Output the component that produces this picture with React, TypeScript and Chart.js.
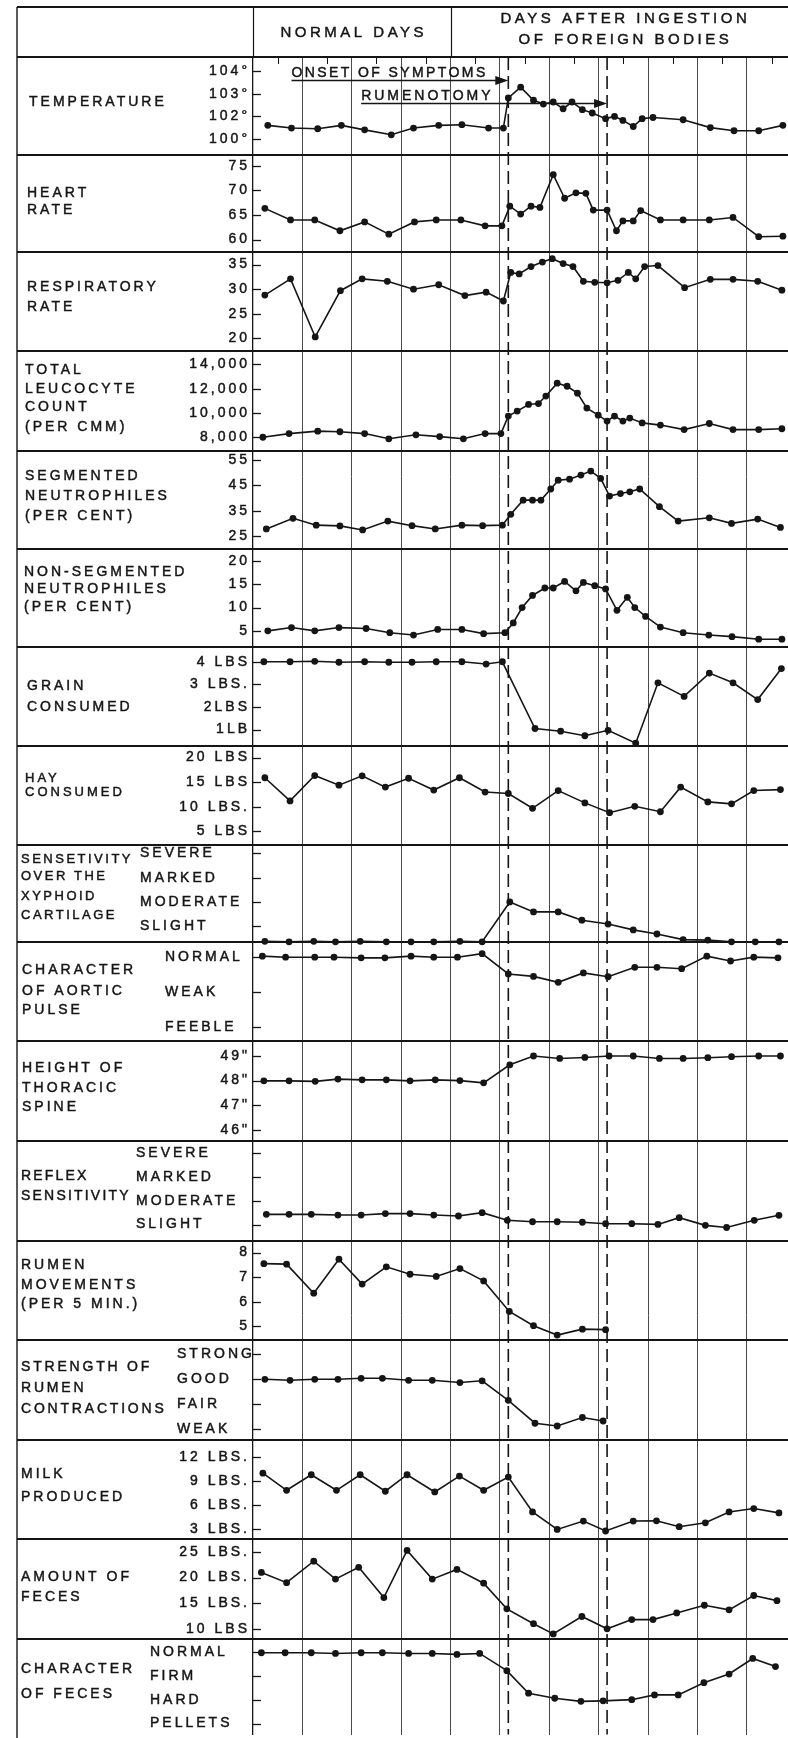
import { useEffect, useRef } from "react";
import { Chart, registerables } from "chart.js";

Chart.register(...registerables);

// ---------------- data (x = days from start of record, grid line = 1 day) ----------------
const tempDays = [0.30, 0.78, 1.31, 1.79, 2.26, 2.80, 3.25, 3.76, 4.23, 4.77, 5.07, 5.17, 5.42, 5.68, 5.88, 6.08, 6.28, 6.46, 6.67, 6.87, 7.14, 7.32, 7.49, 7.70, 7.88, 8.10, 8.71, 9.26, 9.74, 10.24, 10.73];
const tempValues = [101.6, 101.48, 101.45, 101.6, 101.4, 101.18, 101.48, 101.6, 101.63, 101.48, 101.48, 102.82, 103.3, 102.72, 102.55, 102.64, 102.34, 102.64, 102.3, 102.15, 101.9, 102.0, 101.82, 101.55, 101.9, 101.95, 101.85, 101.5, 101.36, 101.36, 101.6];

const heartDays = [0.24, 0.76, 1.25, 1.76, 2.26, 2.75, 3.27, 3.71, 4.21, 4.70, 5.04, 5.20, 5.42, 5.63, 5.81, 6.08, 6.31, 6.54, 6.74, 6.89, 7.17, 7.36, 7.49, 7.70, 7.85, 8.25, 8.71, 9.24, 9.72, 10.24, 10.73];
const heartValues = [66.35, 64.0, 64.0, 61.8, 63.6, 61.1, 63.6, 64.0, 64.0, 62.8, 62.8, 66.8, 65.2, 66.8, 66.55, 73.2, 68.4, 69.5, 69.4, 66.0, 66.0, 61.8, 63.8, 63.8, 65.9, 64.0, 64.0, 64.0, 64.5, 60.6, 60.7];

const respDays = [0.24, 0.76, 1.26, 1.77, 2.21, 2.72, 3.25, 3.76, 4.29, 4.72, 5.07, 5.22, 5.39, 5.63, 5.86, 6.06, 6.28, 6.48, 6.69, 6.92, 7.17, 7.39, 7.60, 7.75, 7.93, 8.20, 8.74, 9.26, 9.72, 10.22, 10.71];
const respValues = [28.8, 32.1, 20.3, 29.7, 32.1, 31.6, 30.0, 30.9, 28.7, 29.4, 27.6, 33.4, 33.1, 34.6, 35.5, 36.2, 35.2, 34.6, 31.6, 31.4, 31.3, 31.8, 33.4, 32.1, 34.6, 34.8, 30.3, 32.0, 32.0, 31.6, 29.8];

const leucoDays = [0.20, 0.73, 1.31, 1.76, 2.26, 2.75, 3.30, 3.78, 4.26, 4.70, 5.02, 5.17, 5.35, 5.58, 5.78, 5.93, 6.16, 6.36, 6.57, 6.76, 6.99, 7.17, 7.32, 7.49, 7.63, 7.88, 8.25, 8.73, 9.24, 9.72, 10.24, 10.71];
const leucoValues = [8000, 8300, 8500, 8450, 8300, 7870, 8200, 8050, 7870, 8300, 8300, 9745, 10150, 10700, 10770, 11390, 12450, 12200, 11630, 10400, 9820, 9330, 9745, 9330, 9580, 9180, 9000, 8630, 9130, 8630, 8630, 8700];

const segDays = [0.27, 0.81, 1.28, 1.76, 2.22, 2.73, 3.22, 3.69, 4.23, 4.65, 5.05, 5.22, 5.47, 5.66, 5.83, 6.03, 6.18, 6.41, 6.64, 6.84, 7.04, 7.22, 7.44, 7.63, 7.83, 8.23, 8.61, 9.24, 9.69, 10.22, 10.68];
const segValues = [27.8, 32.0, 29.3, 29.0, 27.4, 30.9, 29.1, 27.8, 29.3, 29.1, 29.3, 33.6, 39.2, 39.2, 39.2, 43.6, 47.1, 47.5, 49.1, 50.7, 47.8, 40.8, 41.8, 42.5, 43.6, 36.6, 30.9, 32.2, 30.0, 31.7, 28.4];

const nonSegDays = [0.30, 0.78, 1.25, 1.74, 2.29, 2.77, 3.25, 3.74, 4.23, 4.67, 5.10, 5.27, 5.45, 5.66, 5.91, 6.08, 6.31, 6.54, 6.69, 6.92, 7.14, 7.37, 7.58, 7.73, 7.95, 8.25, 8.71, 9.23, 9.70, 10.24, 10.71];
const nonSegValues = [5.0, 5.7, 5.0, 5.7, 5.5, 4.6, 4.1, 5.3, 5.3, 4.4, 4.6, 6.7, 10.0, 12.6, 14.2, 14.2, 15.6, 13.6, 15.4, 14.7, 14.0, 9.4, 12.2, 10.0, 8.1, 5.8, 4.6, 4.1, 3.75, 3.2, 3.2];

const grainDays = [0.22, 0.75, 1.25, 1.74, 2.26, 2.75, 3.22, 3.71, 4.23, 4.72, 5.05, 5.71, 6.23, 6.72, 7.19, 7.75, 8.20, 8.73, 9.24, 9.72, 10.22, 10.70];
const grainValues = [4.0, 4.0, 4.02, 3.98, 4.0, 3.98, 3.98, 4.0, 4.0, 3.9, 4.0, 1.05, 0.93, 0.73, 0.97, 0.4, 3.07, 2.47, 3.5, 3.07, 2.33, 3.7];

const hayDays = [0.24, 0.75, 1.25, 1.74, 2.21, 2.68, 3.15, 3.66, 4.18, 4.70, 5.17, 5.66, 6.18, 6.72, 7.22, 7.73, 8.25, 8.66, 9.21, 9.69, 10.14, 10.68];
const hayValues = [15.9, 11.2, 16.35, 14.4, 16.3, 14.0, 15.8, 13.4, 15.9, 13.0, 12.7, 9.7, 13.3, 10.8, 8.8, 10.1, 9.0, 14.0, 11.0, 10.6, 13.3, 13.5];

const xiphoidDays = [0.24, 0.73, 1.23, 1.67, 2.17, 2.70, 3.20, 3.66, 4.19, 4.64, 5.20, 5.68, 6.18, 6.66, 7.19, 7.70, 8.18, 8.71, 9.21, 9.69, 10.17, 10.65];
const xiphoidValues = [0.38, 0.36, 0.38, 0.36, 0.38, 0.36, 0.36, 0.36, 0.38, 0.36, 2.0, 1.59, 1.59, 1.25, 1.09, 0.85, 0.68, 0.45, 0.43, 0.36, 0.36, 0.36];

const aorticDays = [0.19, 0.66, 1.25, 1.64, 2.19, 2.67, 3.20, 3.66, 4.14, 4.64, 5.17, 5.68, 6.18, 6.69, 7.19, 7.73, 8.18, 8.68, 9.19, 9.67, 10.14, 10.63];
const aorticValues = [3.03, 3.0, 3.0, 3.0, 2.98, 2.98, 3.03, 3.0, 3.0, 3.1, 2.52, 2.45, 2.28, 2.55, 2.44, 2.71, 2.71, 2.67, 3.03, 2.89, 3.0, 2.98];

const spineDays = [0.22, 0.73, 1.26, 1.72, 2.21, 2.70, 3.18, 3.69, 4.19, 4.67, 5.20, 5.68, 6.21, 6.72, 7.21, 7.70, 8.23, 8.71, 9.21, 9.69, 10.24, 10.68];
const spineValues = [47.99, 47.99, 47.97, 48.06, 48.03, 48.03, 47.99, 48.03, 48.0, 47.91, 48.64, 49.0, 48.9, 48.94, 49.0, 49.0, 48.9, 48.9, 48.93, 48.97, 49.0, 49.0];

const reflexDays = [0.27, 0.73, 1.18, 1.72, 2.19, 2.68, 3.18, 3.66, 4.16, 4.64, 5.15, 5.66, 6.16, 6.67, 7.14, 7.67, 8.20, 8.63, 9.16, 9.59, 10.15, 10.65];
const reflexValues = [1.43, 1.43, 1.43, 1.40, 1.40, 1.46, 1.46, 1.40, 1.36, 1.5, 1.18, 1.12, 1.12, 1.10, 1.04, 1.04, 1.01, 1.29, 0.97, 0.88, 1.18, 1.39];

const rumenDays = [0.22, 0.68, 1.23, 1.74, 2.21, 2.70, 3.18, 3.71, 4.19, 4.67, 5.19, 5.68, 6.16, 6.67, 7.14];
const rumenValues = [7.55, 7.53, 6.35, 7.73, 6.72, 7.42, 7.12, 7.03, 7.35, 6.85, 5.61, 5.03, 4.65, 4.89, 4.87];

const strengthDays = [0.24, 0.75, 1.25, 1.72, 2.19, 2.62, 3.15, 3.63, 4.19, 4.64, 5.17, 5.71, 6.16, 6.67, 7.09];
const strengthValues = [3.0, 2.96, 3.0, 3.0, 3.04, 3.04, 2.96, 2.96, 2.87, 2.94, 2.16, 1.24, 1.13, 1.47, 1.33];

const milkDays = [0.20, 0.68, 1.18, 1.69, 2.17, 2.68, 3.12, 3.68, 4.18, 4.67, 5.17, 5.66, 6.16, 6.69, 7.14, 7.70, 8.17, 8.63, 9.16, 9.64, 10.14, 10.65];
const milkValues = [10.0, 7.85, 9.8, 7.85, 9.8, 7.73, 9.8, 7.64, 9.63, 7.85, 9.5, 5.14, 2.95, 4.0, 2.75, 4.0, 4.03, 3.29, 3.78, 5.14, 5.56, 5.02];

const fecesDays = [0.17, 0.68, 1.23, 1.67, 2.14, 2.65, 3.12, 3.63, 4.13, 4.67, 5.14, 5.68, 6.08, 6.66, 7.17, 7.67, 8.10, 8.58, 9.14, 9.64, 10.14, 10.61];
const fecesValues = [21.0, 19.0, 23.2, 19.7, 22.0, 16.1, 25.3, 19.7, 21.6, 18.9, 13.9, 11.0, 9.0, 12.4, 10.0, 11.8, 11.8, 13.1, 14.6, 13.7, 16.5, 15.5];

const fecesCharDays = [0.17, 0.65, 1.18, 1.67, 2.19, 2.62, 3.15, 3.63, 4.13, 4.59, 5.14, 5.58, 6.11, 6.64, 7.09, 7.67, 8.13, 8.61, 9.13, 9.64, 10.12, 10.58];
const fecesCharValues = [3.96, 3.96, 3.96, 3.93, 3.96, 3.96, 3.93, 3.93, 3.89, 3.93, 3.21, 2.27, 2.06, 1.93, 1.95, 2.0, 2.2, 2.2, 2.71, 3.07, 3.72, 3.38];

// ---------------- tick values / labels ----------------
const tempTicks = [104, 103, 102, 101];
const tempTickLabels = ["104°", "103°", "102°", "100°"];
const heartTicks = [75, 70, 65, 60];
const respTicks = [35, 30, 25, 20];
const leucoTicks = [14000, 12000, 10000, 8000];
const leucoTickLabels = ["14,000", "12,000", "10,000", "8,000"];
const segTicks = [55, 45, 35, 25];
const nonSegTicks = [20, 15, 10, 5];
const grainTicks = [4, 3, 2, 1];
const grainTickLabels = ["4 LBS", "3 LBS.", "2LBS", "1LB"];
const hayTicks = [20, 15, 10, 5];
const hayTickLabels = ["20 LBS", "15 LBS", "10 LBS.", "5 LBS"];
const severityTicks = [4, 3, 2, 1];
const severityTickLabels = ["SEVERE", "MARKED", "MODERATE", "SLIGHT"];
const pulseTicks = [3, 2, 1];
const pulseTickLabels = ["NORMAL", "WEAK", "FEEBLE"];
const spineTicks = [49, 48, 47, 46];
const spineTickLabels = ['49"', '48"', '47"', '46"'];
const rumenTicks = [8, 7, 6, 5];
const strengthTicks = [4, 3, 2, 1];
const strengthTickLabels = ["STRONG", "GOOD", "FAIR", "WEAK"];
const milkTicks = [12, 9, 6, 3];
const milkTickLabels = ["12 LBS.", "9 LBS.", "6 LBS.", "3 LBS."];
const fecesTicks = [25, 20, 15, 10];
const fecesTickLabels = ["25 LBS.", "20 LBS.", "15 LBS.", "10 LBS"];
const fecesCharTicks = [4, 3, 2, 1];
const fecesCharTickLabels = ["NORMAL", "FIRM", "HARD", "PELLETS"];

// events
const eventDays = [5.17, 7.17];
const eventNames = ["ONSET OF SYMPTOMS", "RUMENOTOMY"];
const eventArrowStartDays = [0.78, 2.19];
const eventArrowLevels = [103.62, 102.61]; // on the temperature scale
const dayGrid = [1, 2, 3, 4, 5, 6, 7, 8, 9, 10];
const normalPeriodEndDay = 4;
const chartEndDay = 11;
const headerNormal = "NORMAL DAYS";
const headerAfter = ["DAYS AFTER INGESTION", "OF FOREIGN BODIES"];

// ---------------- series list ----------------
const series = [
  { title: ["TEMPERATURE"], days: tempDays, values: tempValues, ticks: tempTicks, labels: tempTickLabels },
  { title: ["HEART", "RATE"], days: heartDays, values: heartValues, ticks: heartTicks, labels: heartTicks.map(String) },
  { title: ["RESPIRATORY", "RATE"], days: respDays, values: respValues, ticks: respTicks, labels: respTicks.map(String) },
  { title: ["TOTAL", "LEUCOCYTE", "COUNT", "(PER CMM)"], days: leucoDays, values: leucoValues, ticks: leucoTicks, labels: leucoTickLabels },
  { title: ["SEGMENTED", "NEUTROPHILES", "(PER CENT)"], days: segDays, values: segValues, ticks: segTicks, labels: segTicks.map(String) },
  { title: ["NON-SEGMENTED", "NEUTROPHILES", "(PER CENT)"], days: nonSegDays, values: nonSegValues, ticks: nonSegTicks, labels: nonSegTicks.map(String) },
  { title: ["GRAIN", "CONSUMED"], days: grainDays, values: grainValues, ticks: grainTicks, labels: grainTickLabels },
  { title: ["HAY", "CONSUMED"], days: hayDays, values: hayValues, ticks: hayTicks, labels: hayTickLabels },
  { title: ["SENSETIVITY", "OVER THE", "XYPHOID", "CARTILAGE"], days: xiphoidDays, values: xiphoidValues, ticks: severityTicks, labels: severityTickLabels },
  { title: ["CHARACTER", "OF AORTIC", "PULSE"], days: aorticDays, values: aorticValues, ticks: pulseTicks, labels: pulseTickLabels },
  { title: ["HEIGHT OF", "THORACIC", "SPINE"], days: spineDays, values: spineValues, ticks: spineTicks, labels: spineTickLabels },
  { title: ["REFLEX", "SENSITIVITY"], days: reflexDays, values: reflexValues, ticks: severityTicks, labels: severityTickLabels },
  { title: ["RUMEN", "MOVEMENTS", "(PER 5 MIN.)"], days: rumenDays, values: rumenValues, ticks: rumenTicks, labels: rumenTicks.map(String) },
  { title: ["STRENGTH OF", "RUMEN", "CONTRACTIONS"], days: strengthDays, values: strengthValues, ticks: strengthTicks, labels: strengthTickLabels },
  { title: ["MILK", "PRODUCED"], days: milkDays, values: milkValues, ticks: milkTicks, labels: milkTickLabels },
  { title: ["AMOUNT OF", "FECES"], days: fecesDays, values: fecesValues, ticks: fecesTicks, labels: fecesTickLabels },
  { title: ["CHARACTER", "OF FECES"], days: fecesCharDays, values: fecesCharValues, ticks: fecesCharTicks, labels: fecesCharTickLabels },
];

// ---------------- layout (pixels) ----------------
const W = 788;
const H = 1738;
const AXIS_X = 253;
const BORDER_X = 17;
const HEADER_TOP = 7;
const HEADER_BOTTOM = 57;
const PX_PER_DAY = 49.7;
const X_MAX = (W - AXIS_X) / PX_PER_DAY;
const FONT = '"Liberation Sans", Arial, Helvetica, sans-serif';
const INK = "#151515";

const rowHeights = [98, 97, 100, 100, 98, 98, 99, 100, 97, 99, 100, 100, 100, 100, 99, 100, 96];
const tickTopOffsets = [14.5, 11, 13, 13, 9, 12, 15, 12, 8, 15, 15, 12, 12, 14, 17, 13, 13];
const tickBottomOffsets = [82, 85, 87, 86, 85, 82, 83, 86, 81, 85, 89, 84, 86, 89, 89, 90, 85];
const titleOffsets = [[45], [38, 55], [36, 56], [19, 38, 56, 76], [25, 45, 65], [23, 40, 58], [39, 60], [33, 47], [14, 31, 51, 70], [28, 49, 68], [27, 47, 66], [35, 55], [25, 45, 64], [27, 48, 69], [34, 57], [38, 58], [30, 55]];
const titleXs = [29, 27, 27, 25, 25, 24, 27, 25, 21, 22, 22, 21, 21, 21, 21, 21, 21];
const titleSizes = [14, 14, 14, 14, 14, 14, 14, 13, 13, 14, 14, 14, 14, 14, 14, 14, 14];
const titleSpacing = [3, 3, 3, 3, 3, 3, 3, 3, 2.5, 3, 3, 2.2, 3, 2.8, 3, 3, 3];
const categoryLabelLeft: (number | null)[] = [null, null, null, null, null, null, null, null, 140, 165, null, 136, null, 177, null, null, 150];

function line(ctx: any, x1: number, y1: number, x2: number, y2: number) {
  ctx.beginPath();
  ctx.moveTo(x1, y1);
  ctx.lineTo(x2, y2);
  ctx.stroke();
}

function inkText(ctx: any, text: string, x: number, y: number) {
  ctx.fillText(text, x, y);
  ctx.strokeText(text, x, y);
}

const sheetPlugin = {
  id: "clinicalSheet",
  beforeDraw(chart: any) {
    const ctx = chart.ctx;
    ctx.save();
    ctx.fillStyle = "#ffffff";
    ctx.fillRect(0, 0, chart.width, chart.height);
    ctx.restore();
    ctx.letterSpacing = "3px";
  },
  afterLayout(chart: any) {
    series.forEach((_, i) => {
      const left = categoryLabelLeft[i];
      if (left != null) chart.scales["y" + i].left = left;
    });
  },
  beforeDatasetsDraw(chart: any) {
    const { ctx, chartArea, scales } = chart;
    const xs = scales.x;
    ctx.save();
    ctx.strokeStyle = INK;
    ctx.fillStyle = INK;

    // row separators
    ctx.lineWidth = 2.2;
    series.forEach((_, i) => {
      const y = Math.round(scales["y" + i].top);
      line(ctx, BORDER_X, y, W, y);
    });
    line(ctx, BORDER_X, HEADER_TOP, W, HEADER_TOP);

    // left border and header dividers
    ctx.lineWidth = 1.4;
    line(ctx, BORDER_X, HEADER_TOP, BORDER_X, H);
    ctx.lineWidth = 1.2;
    line(ctx, chartArea.left + 0.5, HEADER_TOP, chartArea.left + 0.5, chartArea.top);
    const divX = Math.round(xs.getPixelForValue(normalPeriodEndDay)) + 0.5;
    line(ctx, divX, HEADER_TOP, divX, chartArea.top);

    // half-day ticks along top of the first row
    ctx.lineWidth = 1;
    for (let d = 0.5; d < X_MAX; d += 1) {
      const x = Math.round(xs.getPixelForValue(d)) + 0.5;
      line(ctx, x, chartArea.top, x, chartArea.top + 7);
    }

    // inward tick marks on every row axis
    ctx.lineWidth = 1.3;
    series.forEach((_, i) => {
      const s = scales["y" + i];
      s.ticks.forEach((t: any) => {
        const y = Math.round(s.getPixelForValue(t.value)) + 0.5;
        line(ctx, s.right, y, s.right + 8, y);
      });
    });

    // event lines (dashed)
    ctx.lineWidth = 1.6;
    ctx.setLineDash([13, 6]);
    eventDays.forEach((d) => {
      const x = xs.getPixelForValue(d);
      line(ctx, x, chartArea.top, x, chartArea.bottom);
    });
    ctx.setLineDash([]);

    // event arrows in the temperature row
    const ty = scales.y0;
    ctx.lineWidth = 1.6;
    eventDays.forEach((d, k) => {
      const x1 = xs.getPixelForValue(eventArrowStartDays[k]);
      const x2 = xs.getPixelForValue(d);
      const y = Math.round(ty.getPixelForValue(eventArrowLevels[k])) + 0.5;
      line(ctx, x1, y, x2 - 4, y);
      ctx.beginPath();
      ctx.moveTo(x2, y);
      ctx.lineTo(x2 - 13, y - 4.5);
      ctx.lineTo(x2 - 13, y + 4.5);
      ctx.closePath();
      ctx.fill();
    });
    ctx.restore();
  },
  afterDraw(chart: any) {
    const { ctx, chartArea, scales } = chart;
    const xs = scales.x;
    ctx.save();
    ctx.fillStyle = INK;
    ctx.strokeStyle = INK;
    ctx.lineWidth = 0.45;
    ctx.textBaseline = "middle";
    ctx.textAlign = "left";

    // row titles
    series.forEach((s, i) => {
      const top = scales["y" + i].top;
      ctx.font = `${titleSizes[i]}px ${FONT}`;
      ctx.letterSpacing = `${titleSpacing[i]}px`;
      s.title.forEach((t, k) => {
        inkText(ctx, t, titleXs[i], top + titleOffsets[i][k]);
      });
    });

    // header
    ctx.font = `15px ${FONT}`;
    ctx.letterSpacing = "3.5px";
    ctx.textAlign = "center";
    const divX = xs.getPixelForValue(normalPeriodEndDay);
    const endX = xs.getPixelForValue(chartEndDay);
    inkText(ctx, headerNormal, (chartArea.left + divX) / 2 + 2, 33);
    inkText(ctx, headerAfter[0], (divX + endX) / 2 + 2, 19);
    inkText(ctx, headerAfter[1], (divX + endX) / 2 + 2, 40);

    // event labels
    ctx.textAlign = "left";
    ctx.textBaseline = "alphabetic";
    ctx.font = `14px ${FONT}`;
    const ty = scales.y0;
    eventNames.forEach((name, k) => {
      ctx.letterSpacing = k === 0 ? "2.4px" : "3px";
      const x1 = xs.getPixelForValue(eventArrowStartDays[k]);
      const y = ty.getPixelForValue(eventArrowLevels[k]);
      inkText(ctx, name, x1, y - 3);
    });
    ctx.restore();
  },
};

function buildConfig(): any {
  const scales: any = {
    x: {
      type: "linear",
      position: "bottom",
      min: 0,
      max: X_MAX,
      ticks: { display: false },
      grid: { display: true, drawTicks: false, color: "#4a4a4a", lineWidth: 1 },
      border: { display: false },
      afterBuildTicks: (s: any) => {
        s.ticks = dayGrid.map((v) => ({ value: v }));
      },
      afterFit: (s: any) => {
        s.height = 0;
        s.paddingLeft = 0;
        s.paddingRight = 0;
        s.paddingTop = 0;
        s.paddingBottom = 0;
      },
    },
  };
  series.forEach((s, i) => {
    const hgt = rowHeights[i];
    const tTop = s.ticks[0];
    const tBot = s.ticks[s.ticks.length - 1];
    const unit = (tickBottomOffsets[i] - tickTopOffsets[i]) / (tTop - tBot);
    const max = tTop + tickTopOffsets[i] / unit;
    const min = tBot - (hgt - tickBottomOffsets[i]) / unit;
    const labels = s.labels;
    const ticksArr = s.ticks;
    scales["y" + i] = {
      type: "linear",
      position: "left",
      stack: "rows",
      stackWeight: hgt,
      weight: series.length - i,
      min,
      max,
      afterBuildTicks: (sc: any) => {
        sc.ticks = ticksArr.map((v) => ({ value: v }));
      },
      ticks: {
        autoSkip: false,
        padding: 3,
        crossAlign: categoryLabelLeft[i] != null ? "far" : "near",
        color: INK,
        textStrokeColor: INK,
        textStrokeWidth: 0.45,
        font: { family: FONT, size: 14 },
        callback: (_v: any, idx: number) => labels[idx],
      },
      grid: { display: false, drawTicks: false },
      border: { display: true, color: INK, width: 1.3 },
      afterFit: (sc: any) => {
        sc.width = AXIS_X;
        sc.paddingTop = 0;
        sc.paddingBottom = 0;
      },
    };
  });

  const datasets = series.map((s, i) => ({
    label: s.title.join(" "),
    data: s.days.map((d, k) => ({ x: d, y: s.values[k] })),
    xAxisID: "x",
    yAxisID: "y" + i,
    borderColor: INK,
    backgroundColor: INK,
    borderWidth: 1.6,
    pointRadius: 3.4,
    pointBorderWidth: 0,
    pointHoverRadius: 3.4,
    tension: 0,
    clip: false,
  }));

  return {
    type: "line",
    data: { datasets },
    options: {
      responsive: false,
      animation: false,
      devicePixelRatio: 1,
      events: [],
      layout: { padding: { top: HEADER_BOTTOM, left: 0, right: 0, bottom: 0 } },
      plugins: { legend: { display: false }, tooltip: { enabled: false }, title: { display: false } },
      scales,
    },
    plugins: [sheetPlugin],
  };
}

export default function App() {
  const ref = useRef<HTMLCanvasElement>(null);
  useEffect(() => {
    document.body.style.margin = "0";
    document.body.style.overflow = "hidden";
    Chart.defaults.font.family = FONT;
    const chart = new Chart(ref.current as HTMLCanvasElement, buildConfig());
    return () => chart.destroy();
  }, []);
  return <canvas ref={ref} width={W} height={H} style={{ display: "block", width: W, height: H }} />;
}
